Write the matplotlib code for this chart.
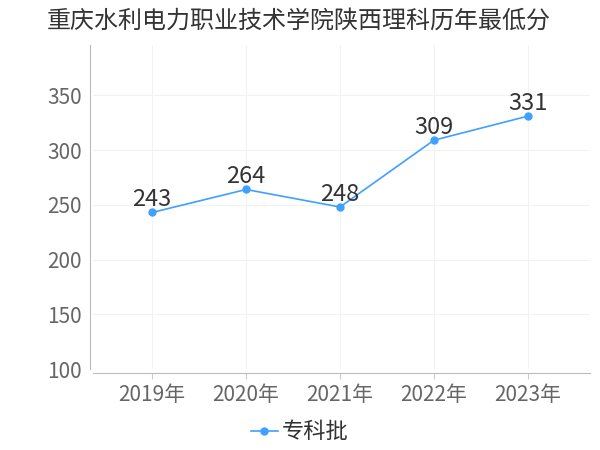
import matplotlib
matplotlib.use('Agg')
import matplotlib.pyplot as plt

plt.rcParams['font.family'] = ['Noto Sans CJK SC', 'DejaVu Sans']

years = ['2019年', '2020年', '2021年', '2022年', '2023年']
scores = [243, 264, 248, 309, 331]
series_name = '专科批'
title = '重庆水利电力职业技术学院陕西理科历年最低分'

fig = plt.figure(figsize=(6, 4.5), dpi=100)
ax = fig.add_axes([0.155, 0.18, 0.828, 0.72])

x = list(range(len(years)))
line, = ax.plot(x, scores, color='#3fa0ff', lw=1.2, marker='o', ms=5,
                label=series_name)
for xi, v in zip(x, scores):
    ax.annotate(str(v), (xi, v), xytext=(0, 1), textcoords='offset points',
                ha='center', va='bottom', fontsize=17, color='#333333')

ax.set_xlim(-0.63, 4.66)
ax.set_ylim(100, 396)
ax.set_yticks([100, 150, 200, 250, 300, 350])
ax.set_xticks(x)
ax.set_xticklabels(years)
ax.tick_params(axis='both', labelsize=15, colors='#666666', length=4, color='#cccccc')
ax.tick_params(axis='y', length=0, pad=6)
ax.tick_params(axis='x', pad=4)

ax.grid(True, color='#f2f2f2', lw=0.8)
ax.set_axisbelow(True)
for s in ['top', 'right']:
    ax.spines[s].set_visible(False)
ax.spines['left'].set_color('#bbbbbb')
ax.spines['bottom'].set_color('#bbbbbb')
ax.spines['left'].set_position(('outward', 2))
ax.spines['bottom'].set_position(('outward', 3))

fig.text(0.078, 0.955, title, fontsize=17.3, color='#333333', va='center', ha='left')

fig.legend(handles=[line], loc='center', bbox_to_anchor=(0.5, 0.04), frameon=False,
           fontsize=16, handlelength=1.2, handletextpad=0.2, labelcolor='#333333')

fig.savefig('out.png', dpi=100)
